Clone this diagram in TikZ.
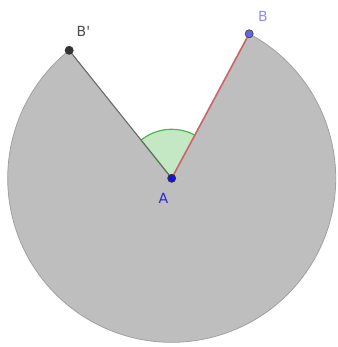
\documentclass[tikz,border=0pt]{standalone}
\usepackage{fontspec}
\setmainfont{DejaVu Sans}
\newfontfamily\lblfont{DejaVu Sans}
\usetikzlibrary{calc}
\definecolor{sectgray}{RGB}{190,190,190}
\definecolor{edgegray}{RGB}{105,105,105}
\definecolor{segred}{RGB}{204,102,102}
\definecolor{angfill}{RGB}{195,232,195}
\definecolor{angline}{RGB}{80,180,80}
\definecolor{ptblue}{RGB}{20,20,220}
\definecolor{ptlblue}{RGB}{100,100,240}
\definecolor{lbllblue}{RGB}{140,140,255}
\definecolor{lblblue}{RGB}{40,40,220}
\begin{document}
\begin{tikzpicture}[x=1pt,y=1pt,
  pt/.style={circle,inner sep=0pt,minimum size=8pt,draw=black!80,line width=0.8pt},
  lbl/.style={font=\lblfont\fontsize{14}{16}\selectfont,inner sep=0pt}]
\useasboundingbox (0,0) rectangle (337,347);
\coordinate (A) at (171.7,168.7);
\coordinate (B) at ($(A)+(61.8:164)$);
\coordinate (Bp) at ($(A)+(128.7:164)$);
\fill[sectgray,draw=sectgray!85!black,line width=0.8pt] (A) -- (B) arc[start angle=61.8,end angle=-231.3,radius=164] -- cycle;
\fill[angfill] (A) -- ($(A)+(61.8:49)$) arc[start angle=61.8,end angle=128.7,radius=49] -- cycle;
\draw[angline,line width=1.2pt] ($(A)+(61.8:49)$) arc[start angle=61.8,end angle=128.7,radius=49];
\draw[angline,line width=1.2pt] (A) -- ($(A)+(128.7:49)$);
\draw[edgegray,line width=1pt] (A) -- (Bp);
\draw[segred,line width=1.6pt] (A) -- (B);
\node[pt,fill=black!80] (nBp) at (Bp) {};
\node[pt,fill=ptlblue,draw=black!70] (nB) at (B) {};
\node[pt,fill=ptblue,draw=black!80] (nA) at (A) {};
\node[lbl,text=black!70,anchor=west] (lBp) at (76.5,316) {B'};
\node[lbl,text=lbllblue] (lB) at (263,331) {B};
\node[lbl,text=lblblue] (lA) at (163.5,149) {A};
\end{tikzpicture}
\end{document}
